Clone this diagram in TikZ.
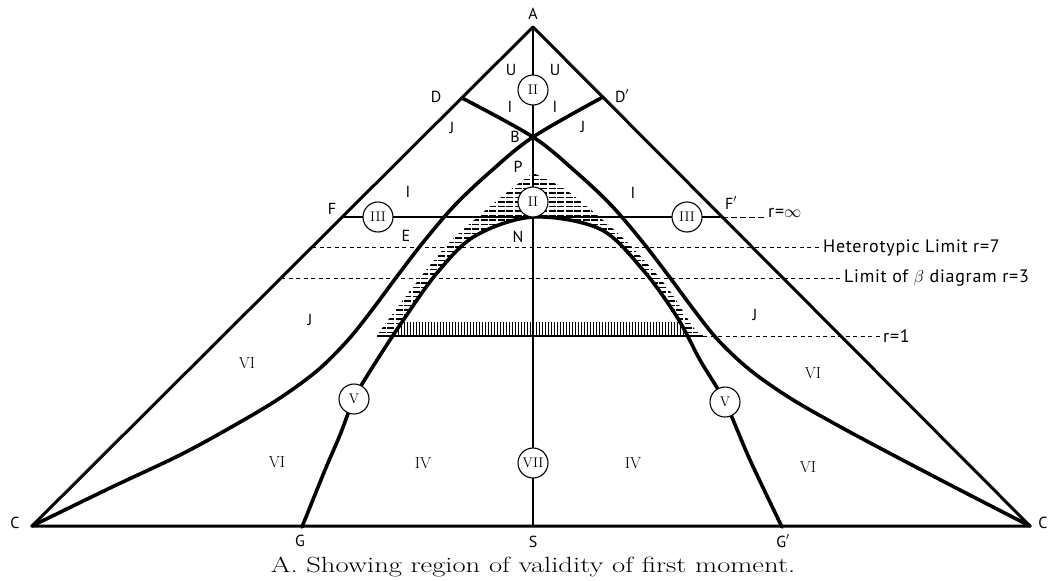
\documentclass[tikz,border=0pt]{standalone}
\usepackage{fontspec}
\setsansfont{PT Sans}
\usetikzlibrary{calc}

% curve through N down to G and G'
\newcommand{\innerarc}{plot[smooth, tension=0.55] coordinates {(302,527) (325,470) (340,435) (354,399) (372,368) (402,322) (437,273) (475,236) (533,217) (600,229) (643,270) (677,317) (700,360) (725,402) (750,460) (782,527)}}

\begin{document}
\begin{tikzpicture}[x=1pt, y=-1pt,
  heavy/.style={line width=3pt, line join=round, line cap=round},
  curve/.style={line width=3.6pt, line cap=round},
  dotline/.style={line width=1pt, dash pattern=on 4pt off 3.5pt},
  ring/.style={circle, draw, line width=1.1pt, fill=white, minimum size=30pt, inner sep=0pt, font=\fontsize{14}{14}\selectfont},
  lbl/.style={font=\sffamily\fontsize{16}{16}\selectfont, inner sep=0pt},
  num/.style={font=\fontsize{16}{16}\selectfont, inner sep=0pt},
  note/.style={font=\sffamily\fontsize{18}{18}\selectfont\addfontfeature{LetterSpace=4}, anchor=west, inner sep=1pt}]

\useasboundingbox (0,0) rectangle (1050,581);

\coordinate (A) at (533,27);
\coordinate (C) at (32,526);
\coordinate (Cr) at (1030,526);
\coordinate (S) at (533,527);
\coordinate (D) at (462,98);
\coordinate (Dr) at (603,97);
\coordinate (B) at (533,137);
\coordinate (F) at (342,217);
\coordinate (Fr) at (722,217);
\coordinate (hetL) at (312,247);
\coordinate (betL) at (281,278);
\coordinate (rone) at (703,336);

% hatched band between P and N
\begin{scope}
  \clip plot[smooth, tension=0.55] coordinates {(377,336) (383,327) (413,287) (447,245) (480,215) (510,190) (533,173)}
    -- plot[smooth, tension=0.55] coordinates {(533,173) (563,188) (597,215) (630,245) (667,287) (693,327) (703,336)} -- cycle;
  \foreach \y in {175,179.5,...,336}
    \draw[line width=1.2pt, dash pattern=on 7pt off 1.5pt] (370,\y) -- (710,\y);
\end{scope}
\fill[white] \innerarc -- cycle;
\begin{scope}
  \clip \innerarc -- cycle;
  \clip (370,322) rectangle (710,336);
  \foreach \x in {380,383,...,700}
    \draw[line width=0.9pt] (\x,322) -- (\x,336);
\end{scope}
\draw[line width=1.5pt] (377,336) -- (rone);

% triangle and axis
\draw[heavy] (C) -- (A) -- (Cr) -- cycle;
\draw[line width=2.5pt] (A) -- (S);
\draw[line width=2.5pt] (F) -- (Fr);

% limits
\node[note] (rinf) at (767,213) {r=$\infty$};
\node[note] (het) at (822,248) {Heterotypic Limit r=7};
\node[note] (bet) at (843,278) {Limit of $\beta$ diagram r=3};
\node[note] (ronelbl) at (882,336) {r=1};
\draw[dotline, dash pattern=on 6pt off 3pt] (Fr) -- (Fr -| rinf.west);
\draw[dotline] (hetL) -- (hetL -| het.west);
\draw[dotline] (betL) -- (betL -| bet.west);
\draw[dotline] (rone) -- (rone -| ronelbl.west);

% boundary curves
\draw[curve] plot[smooth, tension=0.55] coordinates {(603,97) (533,137) (490,172) (455,205) (425,240) (398,275) (372,310) (348,340) (318,370) (280,398) (235,425) (180,455) (110,488) (32,526)};
\draw[curve] plot[smooth, tension=0.55] coordinates {(462,98) (533,137) (576,172) (611,205) (641,240) (668,275) (694,310) (718,340) (750,370) (790,398) (837,425) (893,455) (960,490) (1030,526)};
\draw[curve] \innerarc;

% circled numerals
\node[ring] (c2a) at (533,90) {II};
\node[ring] (c2b) at (533,202) {II};
\node[ring] (c3l) at (378,217) {III};
\node[ring] (c3r) at (687,217) {III};
\node[ring] (c5l) at (354,399) {V};
\node[ring] (c5r) at (725,402) {V};
\node[ring] (c7) at (533,463) {VII};

% point letters
\node[lbl] (lA) at (533,14) {A};
\node[lbl] (lD) at (436,97) {D};
\node[lbl] (lDr) at (622,96) {D$'$};
\node[lbl] (lB) at (515,137) {B};
\node[lbl] (lP) at (518,167) {P};
\node[lbl] (lN) at (518,237) {N};
\node[lbl] (lE) at (406,236) {E};
\node[lbl] (lF) at (332,209) {F};
\node[lbl] (lFr) at (731,203) {F$'$};
\node[lbl] (lC) at (15,523) {C};
\node[lbl] (lCr) at (1043,523) {C};
\node[lbl] (lG) at (300,541) {G};
\node[lbl] (lS) at (533,542) {S};
\node[lbl] (lGr) at (783,541) {G$'$};

% region letters
\node[lbl] (u1) at (511,70) {U};
\node[lbl] (u2) at (555,70) {U};
\node[lbl] (i1) at (510,107) {I};
\node[lbl] (i2) at (555,107) {I};
\node[lbl] (j1) at (452,128) {J};
\node[lbl] (j2) at (583,127) {J};
\node[lbl] (i3) at (408,192) {I};
\node[lbl] (i4) at (633,193) {I};
\node[lbl] (j3) at (310,320) {J};
\node[lbl] (j4) at (755,315) {J};
\node[num] (vi1) at (247,363) {VI};
\node[num] (vi2) at (277,462) {VI};
\node[num] (vi3) at (813,373) {VI};
\node[num] (vi4) at (808,467) {VI};
\node[num] (iv1) at (423,463) {IV};
\node[num] (iv2) at (633,463) {IV};

\node (cap) at (533,567) {\scalebox{1.3}[1]{\fontsize{22}{24}\selectfont A. Showing region of validity of first moment.}};
\end{tikzpicture}
\end{document}
